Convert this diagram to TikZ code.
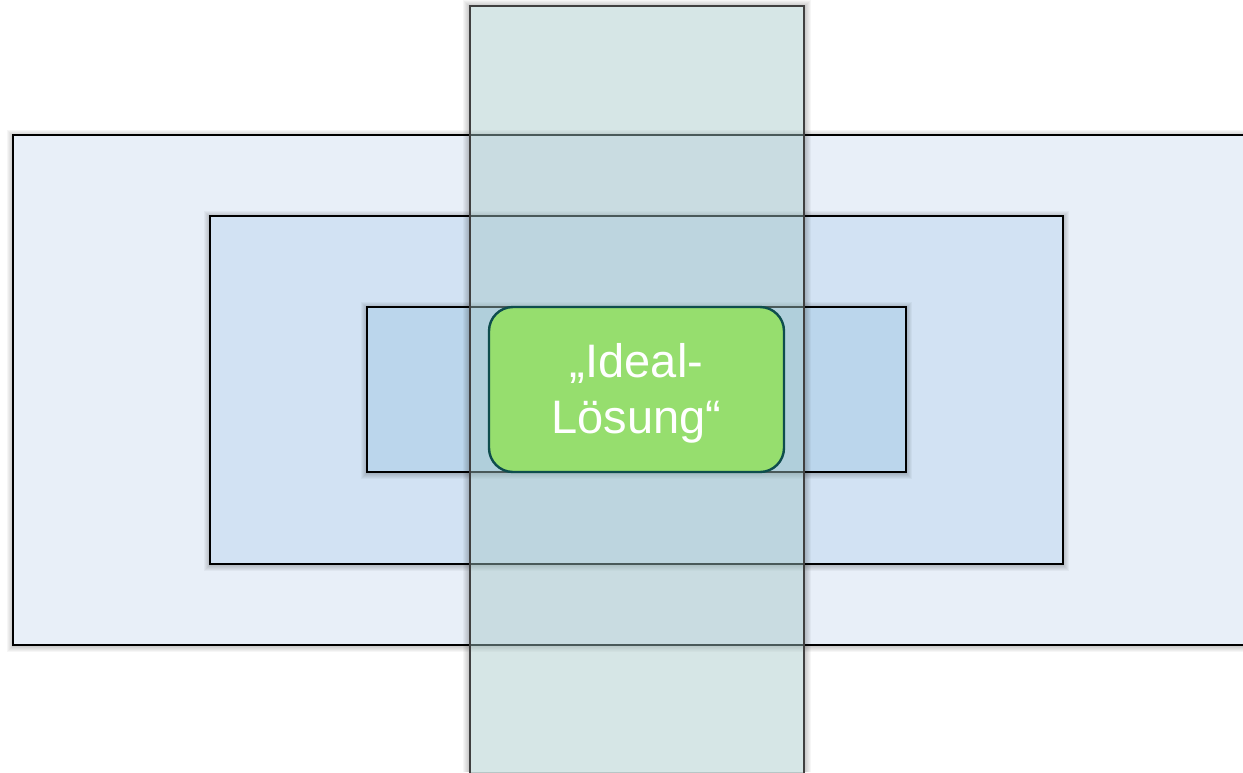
\documentclass[tikz,border=0pt]{standalone}
\usepackage{fontspec}
\setmainfont{Liberation Sans}
\definecolor{outerfill}{HTML}{E8EFF8}
\definecolor{midfill}{HTML}{D2E2F3}
\definecolor{innerfill}{HTML}{BBD6EC}
\definecolor{stripfill}{RGB}{164,199,199}
\definecolor{idealfill}{HTML}{96DE6E}
\definecolor{idealline}{HTML}{0E4D4D}
\tikzset{
  shadelayer/.style={fill=black, fill opacity=0.035, draw=none},
  layerbox/.style={draw=black, line width=1.1pt},
  stripbox/.style={draw=black!75, line width=1.1pt, fill=stripfill, fill opacity=0.45},
  idealbox/.style={draw=idealline, line width=2.4pt, fill=idealfill, rounded corners=24pt},
  idealtext/.style={align=center, text=white, inner sep=0pt,
    font=\fontsize{47}{56}\selectfont}
}
% soft drop shadow: stacked translucent rectangles, offset down and right
\newcommand{\softdrop}[5]{%
  \foreach \g in {1,...,7}{%
    \fill[shadelayer] ({#1+#5-\g},{#2+#5+1-\g}) rectangle ({#3-#5+\g},{#4-#5+1+\g});
  }%
}
\begin{document}
\begin{tikzpicture}[x=1pt,y=-1pt]
  \useasboundingbox (0,0) rectangle (1243,772);
  \clip (0,0) rectangle (1243,772);
  % nested layers
  \softdrop{13}{135}{1270}{645}{1}
  \draw[layerbox, fill=outerfill] (13,135) rectangle (1270,645);
  \softdrop{210}{216}{1063}{564}{1}
  \draw[layerbox, fill=midfill] (210,216) rectangle (1063,564);
  \softdrop{367}{307}{906}{472}{1}
  \draw[layerbox, fill=innerfill] (367,307) rectangle (906,472);
  % soft shadow around the vertical strip, kept outside it
  \begin{scope}[even odd rule]
    \clip (0,0) rectangle (1243,772) (470,6) rectangle (804,790);
    \softdrop{470}{6}{804}{790}{0}
  \end{scope}
  % vertical cross strip
  \draw[stripbox] (470,6) rectangle (804,790);
  % centre element
  \node[idealbox, minimum width=295pt, minimum height=165pt, inner sep=0pt]
    (ideal) at (636.5,389.5) {};
  \node[idealtext] (idealtxt) at ([yshift=-4pt]ideal.center) {„Ideal-\\Lösung“};
\end{tikzpicture}
\end{document}
